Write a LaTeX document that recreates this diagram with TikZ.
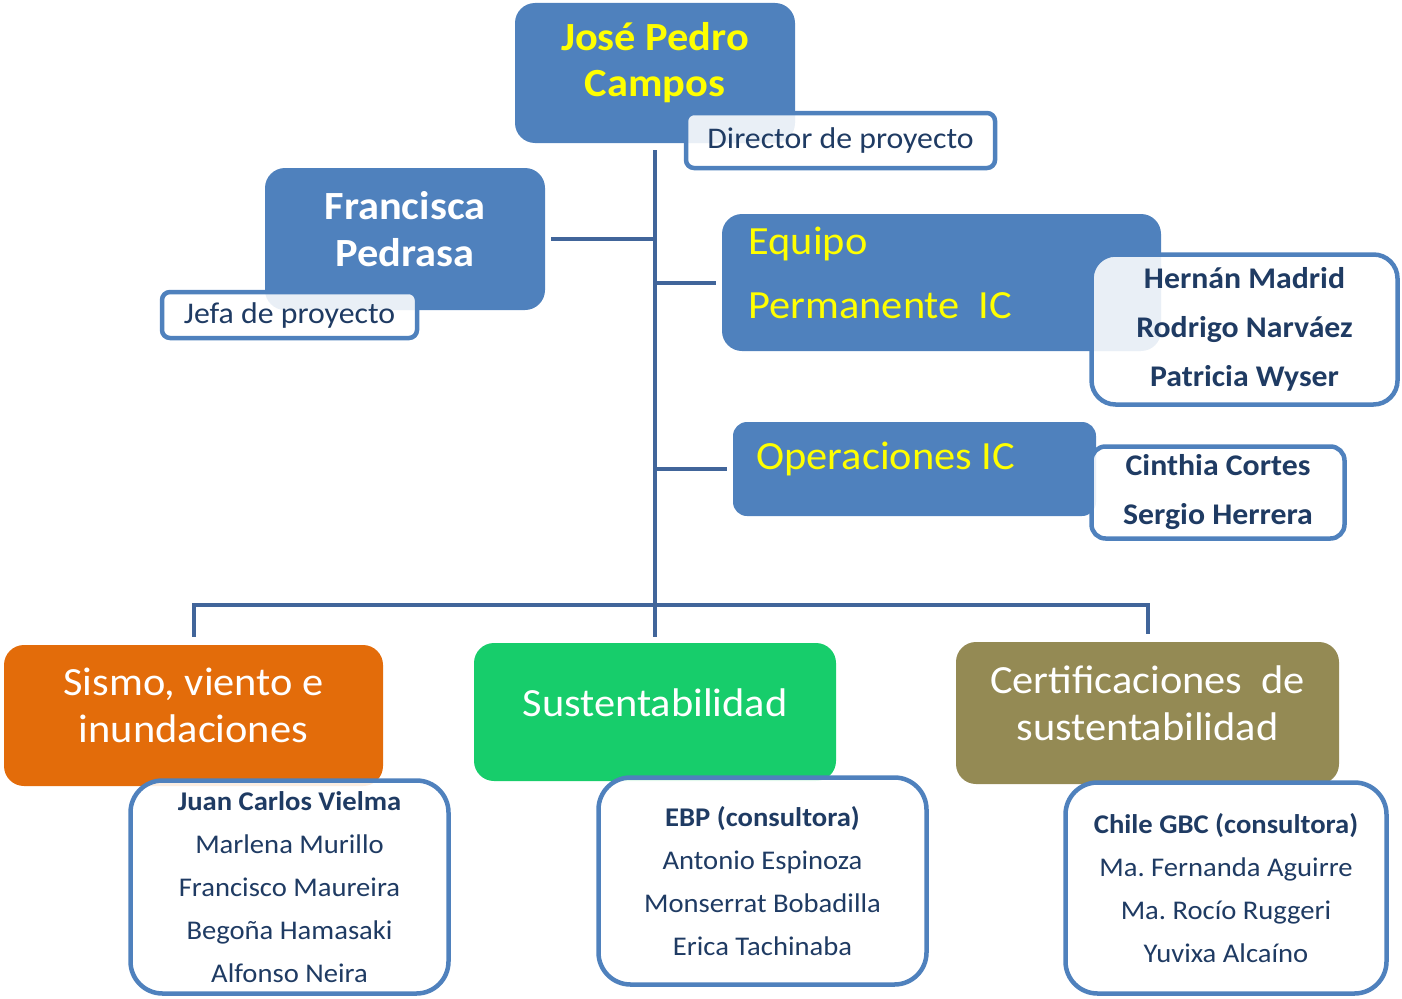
\documentclass[tikz,border=0pt]{standalone}
\usepackage{fontspec}
\setmainfont{Carlito}[FakeStretch=1.06]
\usetikzlibrary{positioning}
\frenchspacing

\definecolor{boxblue}{HTML}{4F81BD}
\definecolor{linkblue}{HTML}{41659A}
\definecolor{navy}{HTML}{1F3B63}
\definecolor{sisorange}{HTML}{E36C0A}
\definecolor{susgreen}{HTML}{17CD6B}
\definecolor{certolive}{HTML}{948A54}
\definecolor{titleyellow}{HTML}{FFFF00}

\tikzset{
  conn/.style = {draw=linkblue, line width=4pt},
  rolebox/.style = {draw=none, rounded corners=20pt, inner sep=0pt},
  namebox/.style = {draw=boxblue, line width=4.5pt, fill=white, fill opacity=0.88,
                    text opacity=1, inner sep=0pt, text=navy, align=center},
  bigtxt/.style = {font=\fontsize{40}{46}\selectfont, align=center},
  smalltxt/.style = {font=\fontsize{30}{34}\selectfont},
}

\begin{document}
\begin{tikzpicture}[x=1pt, y=-1pt]
\useasboundingbox (0,0) rectangle (1402,998);

% coloured boxes
\node[rolebox, fill=boxblue, minimum width=280, minimum height=140] (jpc) at (655,73) {};
\node[rolebox, fill=boxblue, minimum width=280, minimum height=142] (fra) at (405,239) {};
\node[rolebox, fill=boxblue, minimum width=439, minimum height=137] (equ) at (941.5,282.5) {};
\node[rolebox, fill=boxblue, minimum width=363, minimum height=94, rounded corners=14pt] (ope) at (914.5,469) {};
\node[rolebox, fill=sisorange, minimum width=379, minimum height=141] (sis) at (193.5,715.5) {};
\node[rolebox, fill=susgreen, minimum width=362, minimum height=138] (sus) at (655,712) {};
\node[rolebox, fill=certolive, minimum width=383, minimum height=142] (cer) at (1147.5,713) {};

% titles
\node[bigtxt, text=titleyellow, font=\fontsize{40}{46}\bfseries] (jpctxt) at ([yshift=10]jpc.center) {José Pedro\\Campos};
\node[bigtxt, text=white, font=\fontsize{40}{47}\bfseries] (fratxt) at ([yshift=10]fra.center) {Francisca\\Pedrasa};
\node[bigtxt, text=titleyellow, font=\fontsize{40}{64}\selectfont, align=left, anchor=west] (equtxt) at (745,273) {Equipo\\Permanente\ \ IC};
\node[bigtxt, text=titleyellow, anchor=west] (opetxt) at (753,459) {Operaciones IC};
\node[bigtxt, text=white, font=\fontsize{40}{47}\selectfont] (sistxt) at ([yshift=10]sis.center) {Sismo, viento e\\inundaciones};
\node[bigtxt, text=white] (sustxt) at ([yshift=9]sus.center) {Sustentabilidad};
\node[bigtxt, text=white, font=\fontsize{40}{47}\selectfont] (certxt) at ([yshift=9.5]cer.center) {Certificaciones\ \ de\\sustentabilidad};

% white boxes
\node[namebox, smalltxt, rounded corners=8pt, minimum width=309, minimum height=55] (dir) at (840.5,140.5) {Director de proyecto};
\node[namebox, smalltxt, rounded corners=8pt, minimum width=255, minimum height=46] (jef) at (289.5,315) {Jefa de proyecto};
\node[namebox, rounded corners=24pt, minimum width=306, minimum height=150,
      font=\fontsize{30}{49}\bfseries] (equn) at (1244.5,329.5) {Hernán Madrid\\Rodrigo Narváez\\Patricia Wyser};
\node[namebox, rounded corners=14pt, minimum width=253, minimum height=92,
      font=\fontsize{30}{49}\bfseries] (open) at (1218,492.5) {Cinthia Cortes\\Sergio Herrera};
\node[namebox, rounded corners=32pt, minimum width=318, minimum height=213,
      font=\fontsize{27}{43}\selectfont] (sisn) at (289.5,887) {\textbf{Juan Carlos Vielma}\\Marlena Murillo\\Francisco Maureira\\Begoña Hamasaki\\Alfonso Neira};
\node[namebox, rounded corners=32pt, minimum width=328, minimum height=207,
      font=\fontsize{27}{43}\selectfont] (susn) at (762.5,881) {\textbf{EBP (consultora)}\\Antonio Espinoza\\Monserrat Bobadilla\\Erica Tachinaba};
\node[namebox, rounded corners=32pt, minimum width=321, minimum height=211,
      font=\fontsize{27}{43}\selectfont] (cern) at (1226,888) {\textbf{Chile GBC (consultora)}\\Ma. Fernanda Aguirre\\Ma. Rocío Ruggeri\\Yuvixa Alcaíno};

% connectors
\coordinate (bus) at (655,605);
\draw[conn] ([yshift=-7]jpc.south) -- ([yshift=6]sus.north);
\draw[conn] ([xshift=6]fra.east) -- (fra.east -| jpc.south);
\draw[conn] ([xshift=-6]equ.west) -- (equ.west -| jpc.south);
\draw[conn] ([xshift=-6]ope.west) -- (ope.west -| jpc.south);
\draw[conn] ([yshift=8]sis.north) |- (bus) -| ([yshift=8]cer.north);
\end{tikzpicture}
\end{document}
